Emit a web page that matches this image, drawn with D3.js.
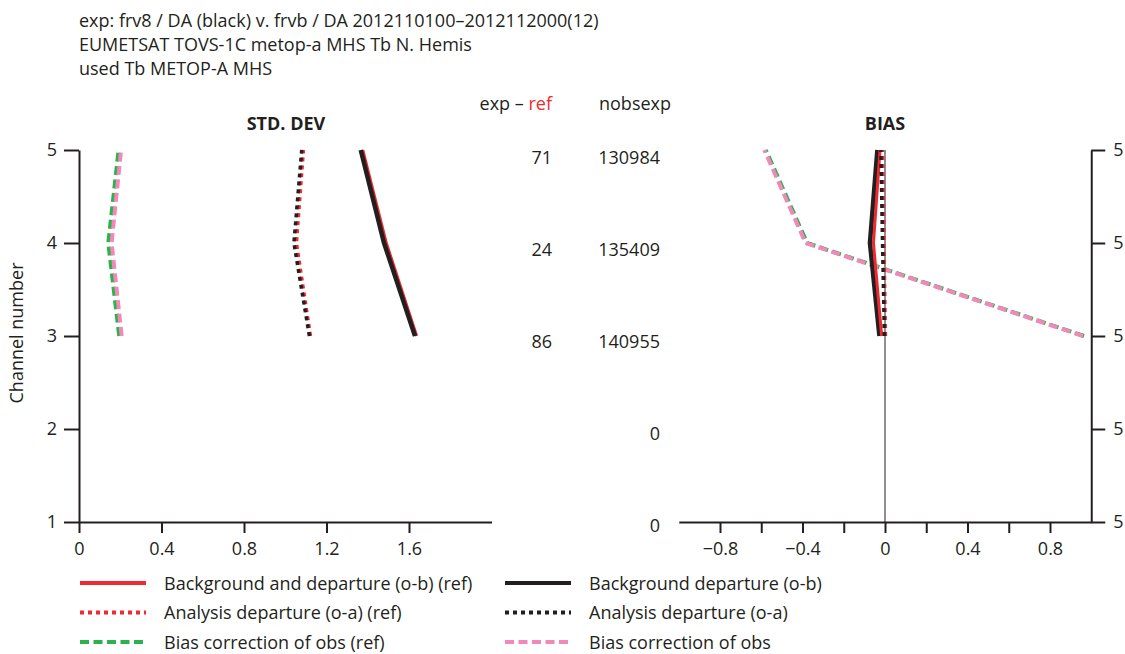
<!DOCTYPE html>
<html>
<head>
<meta charset="utf-8">
<script src="https://cdn.jsdelivr.net/npm/d3@7"></script>
<style>
body { margin: 0; background: #fff; }
svg { display: block; font-family: "Open Sans", sans-serif; }
</style>
</head>
<body>
<script>
// channels that have data (3,4,5), axis ticks 1..5
var channels = [3, 4, 5]
var channelTicks = [1, 2, 3, 4, 5]

// STD. DEV panel, values for channels 3,4,5
var stdBgRef = [1.637, 1.490, 1.376]
var stdBgExp = [1.629, 1.479, 1.366]
var stdAnRef = [1.122, 1.054, 1.088]
var stdAnExp = [1.117, 1.042, 1.080]
var stdBcRef = [0.195, 0.142, 0.192]
var stdBcExp = [0.207, 0.158, 0.204]

// BIAS panel, values for channels 3,4,5
var biasBgRef = [-0.016, -0.056, -0.024]
var biasBgExp = [-0.027, -0.073, -0.037]
var biasAnRef = [0.002, -0.005, -0.012]
var biasAnExp = [-0.003, -0.012, -0.020]
var biasBcRef = [0.965, -0.378, -0.578]
var biasBcExp = [0.960, -0.385, -0.585]

// middle columns, channels 1..5
var expMinusRef = ["", "", "86", "24", "71"]
var nobsexp = ["0", "0", "140955", "135409", "130984"]

var stdTicks = [0, 0.4, 0.8, 1.2, 1.6]
var biasTicks = [-0.8, -0.6, -0.4, -0.2, 0, 0.2, 0.4, 0.6, 0.8]

var headerLines = [
  "exp: frv8 / DA (black) v. frvb / DA 2012110100\u20132012112000(12)",
  "EUMETSAT TOVS-1C metop-a MHS Tb N. Hemis",
  "used Tb METOP-A MHS"
]

var legendLabels = [
  "Background and departure (o-b) (ref)", "Background departure (o-b)",
  "Analysis departure (o-a) (ref)", "Analysis departure (o-a)",
  "Bias correction of obs (ref)", "Bias correction of obs"
]

var ink = "#231f20"
var red = "#ee2a2e"
var green = "#2bb24c"
var pink = "#f287b9"

var styles = {
  bgRef: {color: red, width: 3, dash: null},
  bgExp: {color: ink, width: 4.5, dash: null},
  anRef: {color: red, width: 3.5, dash: "4,4"},
  anExp: {color: ink, width: 3.5, dash: "4,4"},
  bcRef: {color: green, width: 4, dash: "9,4.5"},
  bcExp: {color: pink, width: 4, dash: "9,4.5"}
}

var svg = d3.select("body")
  .append("svg")
  .attr("width", 1125)
  .attr("height", 654)

// header
svg.append("g")
  .selectAll("text")
  .data(headerLines)
  .enter()
  .append("text")
  .attr("x", 79)
  .attr("y", function(d, i) { return 26.5 + i * 24.2 })
  .attr("font-size", 18)
  .attr("fill", ink)
  .text(function(d) { return d })

var yScale = d3.scaleLinear().domain([1, 5]).range([522, 150])
var xStd = d3.scaleLinear().domain([0, 2]).range([79, 491.5])
var xBias = d3.scaleLinear().domain([-1, 1]).range([678.75, 1091.25])

var fmt = function(d) {
  if (d === 0) return "0"
  return d3.format(".1f")(d).replace("-", "\u2013")
}

var styleAxis = function(g) {
  g.selectAll("path, line").attr("stroke", ink).attr("stroke-width", 2)
  g.selectAll("text").attr("fill", ink).attr("font-size", 18)
  g.attr("font-family", null)
}

// left panel axes
svg.append("g")
  .attr("transform", "translate(79,0)")
  .call(d3.axisLeft(yScale).tickValues(channelTicks).tickSize(15).tickSizeOuter(0).tickPadding(7).tickFormat(d3.format("d")))
  .call(styleAxis)

svg.append("g")
  .attr("transform", "translate(0,522)")
  .call(d3.axisBottom(xStd).tickValues(stdTicks).tickSize(11).tickSizeOuter(0).tickPadding(9).tickFormat(fmt))
  .call(styleAxis)

// right panel axes
svg.append("g")
  .attr("transform", "translate(1091.25,0)")
  .call(d3.axisRight(yScale).tickValues(channelTicks).tickSize(14).tickSizeOuter(0).tickPadding(8).tickFormat(function() { return "5" }))
  .call(styleAxis)

svg.append("g")
  .attr("transform", "translate(0,522)")
  .call(d3.axisBottom(xBias).tickValues(biasTicks).tickSize(11).tickSizeOuter(0).tickPadding(9)
    .tickFormat(function(d) { return Math.abs(Math.round(d * 10)) % 4 === 0 ? fmt(d) : "" }))
  .call(styleAxis)

// zero line of bias panel
svg.append("line")
  .attr("x1", xBias(0)).attr("x2", xBias(0))
  .attr("y1", yScale(5)).attr("y2", yScale(1))
  .attr("stroke", ink)
  .attr("stroke-width", 1)

// titles
svg.append("text")
  .attr("x", 286).attr("y", 129.5)
  .attr("text-anchor", "middle")
  .attr("font-size", 18).attr("font-weight", "bold").attr("fill", ink)
  .text("STD. DEV")

svg.append("text")
  .attr("x", xBias(0)).attr("y", 129.5)
  .attr("text-anchor", "middle")
  .attr("font-size", 18).attr("font-weight", "bold").attr("fill", ink)
  .text("BIAS")

svg.append("text")
  .attr("transform", "rotate(-90)")
  .attr("x", -333).attr("y", 23)
  .attr("text-anchor", "middle")
  .attr("font-size", 18).attr("fill", ink)
  .text("Channel number")

// middle columns
var colHead = svg.append("text")
  .attr("x", 552).attr("y", 109.5)
  .attr("text-anchor", "end")
  .attr("font-size", 18).attr("fill", ink)
colHead.append("tspan").text("exp \u2013 ")
colHead.append("tspan").attr("fill", red).text("ref")

svg.append("text")
  .attr("x", 599).attr("y", 109.5)
  .attr("font-size", 18).attr("fill", ink)
  .text("nobsexp")

var labelY = d3.scaleLinear().domain([1, 5]).range([525, 157.5])

svg.append("g")
  .selectAll("text")
  .data(expMinusRef)
  .enter()
  .append("text")
  .attr("x", 552)
  .attr("y", function(d, i) { return labelY(i + 1) + 6.5 })
  .attr("text-anchor", "end")
  .attr("font-size", 18).attr("fill", ink)
  .text(function(d) { return d })

svg.append("g")
  .selectAll("text")
  .data(nobsexp)
  .enter()
  .append("text")
  .attr("x", 660)
  .attr("y", function(d, i) { return labelY(i + 1) + 6.5 })
  .attr("text-anchor", "end")
  .attr("font-size", 18).attr("fill", ink)
  .text(function(d) { return d })

// profile lines
var drawProfile = function(values, xScale, st) {
  var pts = values.map(function(v, i) { return {ch: channels[i], v: v} })
  var line = d3.line()
    .x(function(d) { return xScale(d.v) })
    .y(function(d) { return yScale(d.ch) })
  svg.append("path")
    .datum(pts)
    .attr("d", line)
    .attr("fill", "none")
    .attr("stroke", st.color)
    .attr("stroke-width", st.width)
    .attr("stroke-dasharray", st.dash)
}

drawProfile(stdBcRef, xStd, styles.bcRef)
drawProfile(stdBcExp, xStd, styles.bcExp)
drawProfile(stdAnRef, xStd, styles.anRef)
drawProfile(stdAnExp, xStd, styles.anExp)
drawProfile(stdBgRef, xStd, styles.bgRef)
drawProfile(stdBgExp, xStd, styles.bgExp)

drawProfile(biasBcRef, xBias, styles.bcRef)
drawProfile(biasBcExp, xBias, styles.bcExp)
drawProfile(biasBgExp, xBias, styles.bgExp)
drawProfile(biasBgRef, xBias, styles.bgRef)
drawProfile(biasAnRef, xBias, styles.anRef)
drawProfile(biasAnExp, xBias, styles.anExp)

// legend, two columns
var legendStyles = [styles.bgRef, styles.bgExp, styles.anRef, styles.anExp, styles.bcRef, styles.bcExp]

var gs = svg.append("g")
  .selectAll("g")
  .data(legendLabels)
  .enter()
  .append("g")
  .attr("transform", function(d, i) {
    return "translate(" + (i % 2 === 0 ? 80 : 505) + "," + (583 + Math.floor(i / 2) * 29.5) + ")"
  })

gs.append("line")
  .attr("x1", 0).attr("x2", 66)
  .attr("stroke", function(d, i) { return legendStyles[i].color })
  .attr("stroke-width", 4)
  .attr("stroke-dasharray", function(d, i) { return legendStyles[i].dash })

gs.append("text")
  .attr("x", 84)
  .attr("y", 6.5)
  .attr("font-size", 18)
  .attr("fill", ink)
  .text(function(d) { return d })
</script>
</body>
</html>
